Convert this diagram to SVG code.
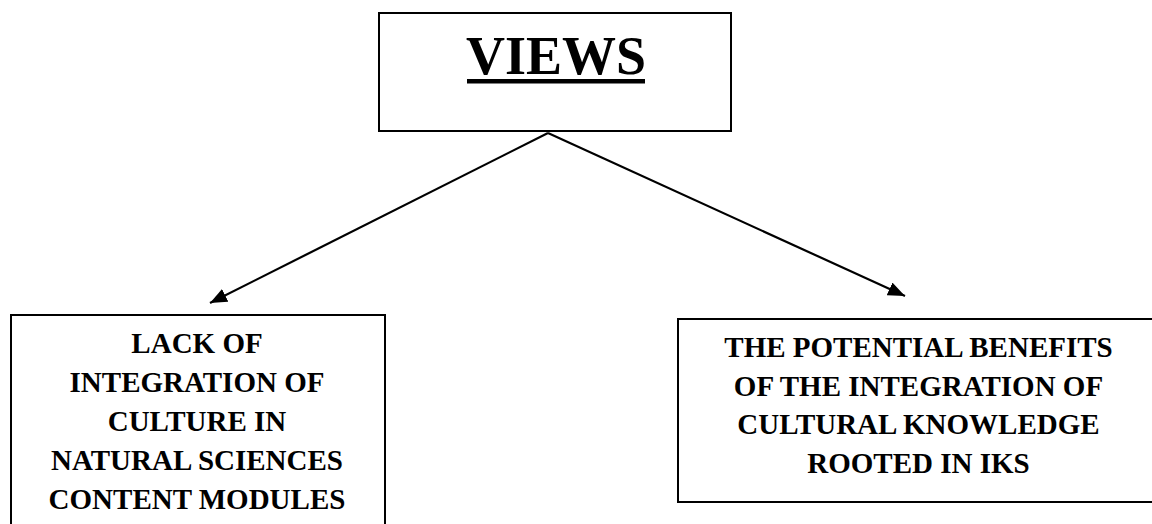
<svg xmlns="http://www.w3.org/2000/svg" width="1152" height="524" viewBox="0 0 1152 524">
  <style>
    .box { fill: #ffffff; stroke: #000000; stroke-width: 2; }
    .lbl { font-family: "Liberation Serif", "Times New Roman", serif; font-weight: bold; font-size: 29px; fill: #000000; text-anchor: middle; }
    .title { font-family: "Liberation Serif", "Times New Roman", serif; font-weight: bold; font-size: 54px; fill: #000000; text-anchor: middle; }
    .conn { stroke: #000000; stroke-width: 2.2; fill: none; }
  </style>
  <defs>
    <marker id="arrow" markerUnits="userSpaceOnUse" markerWidth="18" markerHeight="15" refX="17" refY="7" orient="auto">
      <path d="M0,0 L17,7 L0,14 Z" fill="#000000"/>
    </marker>
  </defs>
  <rect width="1152" height="524" fill="#ffffff"/>

  <g id="connectors">
    <line class="conn" x1="548" y1="133" x2="210" y2="303" marker-end="url(#arrow)"/>
    <line class="conn" x1="548" y1="133" x2="905" y2="296" marker-end="url(#arrow)"/>
  </g>

  <g id="node-views">
    <rect class="box" x="379" y="13" width="352" height="118"/>
    <text class="title" x="556" y="74">VIEWS</text>
    <rect x="467" y="79" width="178" height="4.5" fill="#000000"/>
  </g>

  <g id="node-lack">
    <rect class="box" x="11" y="315" width="374" height="230"/>
    <text class="lbl" x="197" y="353">LACK OF</text>
    <text class="lbl" x="197" y="392">INTEGRATION OF</text>
    <text class="lbl" x="197" y="431">CULTURE IN</text>
    <text class="lbl" x="197" y="470">NATURAL SCIENCES</text>
    <text class="lbl" x="197" y="509">CONTENT MODULES</text>
  </g>

  <g id="node-benefits">
    <rect class="box" x="678" y="319" width="482" height="183"/>
    <text class="lbl" x="918.5" y="357">THE POTENTIAL BENEFITS</text>
    <text class="lbl" x="918.5" y="395.5">OF THE INTEGRATION OF</text>
    <text class="lbl" x="918.5" y="434">CULTURAL KNOWLEDGE</text>
    <text class="lbl" x="918.5" y="473">ROOTED IN IKS</text>
  </g>
</svg>
